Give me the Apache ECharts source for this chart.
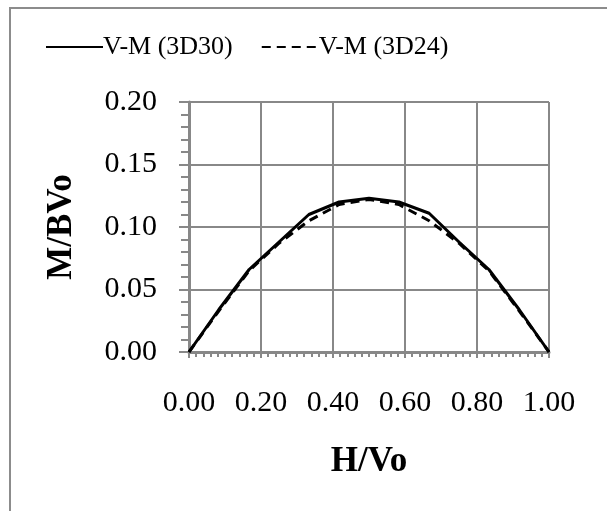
<!DOCTYPE html>
<html>
<head>
<meta charset="utf-8">
<script src="https://cdn.jsdelivr.net/npm/echarts@6/dist/echarts.min.js"></script>
<style>
  html, body { margin: 0; padding: 0; background: #fff; }
  #chart { width: 607px; height: 511px; }
</style>
</head>
<body>
<div id="chart"></div>
<script>
// Normalised height H/Vo sampled along the member
const hRatio = [0, 0.083, 0.167, 0.25, 0.333, 0.417, 0.5, 0.583, 0.667, 0.75, 0.833, 0.917, 1.0];
// Normalised moment M/BVo for the two models
const mb3D30 = [0, 0.034, 0.066, 0.088, 0.110, 0.120, 0.123, 0.120, 0.111, 0.088, 0.066, 0.034, 0];
const mb3D24 = [0, 0.033, 0.065, 0.087, 0.105, 0.118, 0.122, 0.118, 0.105, 0.087, 0.065, 0.033, 0];
const seriesNames = ['V-M (3D30)', 'V-M (3D24)'];

const FONT = "'Liberation Serif', 'Times New Roman', serif";
const GRID_GREY = '#888888';

const pairs = (ys) => hRatio.map((x, i) => [x, ys[i]]);

const chart = echarts.init(document.getElementById('chart'), null, { renderer: 'canvas' });
chart.setOption({
  animation: false,
  backgroundColor: '#ffffff',
  graphic: [{
    type: 'rect',
    shape: { x: 10, y: 8, width: 700, height: 600 },
    style: { fill: 'none', stroke: '#8c8c8c', lineWidth: 2 },
    silent: true
  }],
  legend: {
    left: 40,
    top: 29,
    itemWidth: 57,
    itemHeight: 14,
    itemGap: 28,
    itemStyle: { opacity: 0 },
    lineStyle: { width: 2 },
    textStyle: { fontFamily: FONT, fontSize: 26, color: '#000', padding: [0, 0, 0, -5] },
    data: seriesNames
  },
  grid: { left: 189, right: 58, top: 102, bottom: 159 },
  xAxis: {
    type: 'value',
    min: 0, max: 1, interval: 0.2,
    name: 'H/Vo',
    nameLocation: 'middle',
    nameGap: 92,
    nameTextStyle: { fontFamily: FONT, fontSize: 35, fontWeight: 'bold', color: '#000' },
    axisLine: { show: true, lineStyle: { color: GRID_GREY, width: 3 } },
    axisTick: { show: true, length: 6, lineStyle: { color: GRID_GREY, width: 2 } },
    minorTick: { show: true, splitNumber: 10, length: 5, lineStyle: { color: GRID_GREY, width: 2 } },
    splitLine: { show: true, lineStyle: { color: GRID_GREY, width: 2 } },
    axisLabel: {
      margin: 36,
      fontFamily: FONT, fontSize: 30, color: '#000',
      formatter: (v) => v.toFixed(2)
    }
  },
  yAxis: {
    type: 'value',
    min: 0, max: 0.2, interval: 0.05,
    name: 'M/BVo',
    nameLocation: 'middle',
    nameGap: 110,
    nameRotate: 90,
    nameTextStyle: { fontFamily: FONT, fontSize: 35, fontWeight: 'bold', color: '#000' },
    axisLine: { show: true, lineStyle: { color: GRID_GREY, width: 3 } },
    axisTick: { show: true, length: 10, lineStyle: { color: GRID_GREY, width: 2 } },
    minorTick: { show: true, splitNumber: 5, length: 8, lineStyle: { color: GRID_GREY, width: 2 } },
    splitLine: { show: true, lineStyle: { color: GRID_GREY, width: 2 } },
    axisLabel: {
      margin: 32,
      fontFamily: FONT, fontSize: 30, color: '#000',
      formatter: (v) => v.toFixed(2)
    }
  },
  series: [
    {
      name: seriesNames[0],
      type: 'line',
      data: pairs(mb3D30),
      symbol: 'none',
      lineStyle: { color: '#000', width: 3, type: 'solid' },
      itemStyle: { color: '#000' },
      z: 3
    },
    {
      name: seriesNames[1],
      type: 'line',
      data: pairs(mb3D24),
      symbol: 'none',
      lineStyle: { color: '#000', width: 3, type: [9, 6] },
      itemStyle: { color: '#000' },
      z: 2
    }
  ]
});
</script>
</body>
</html>
